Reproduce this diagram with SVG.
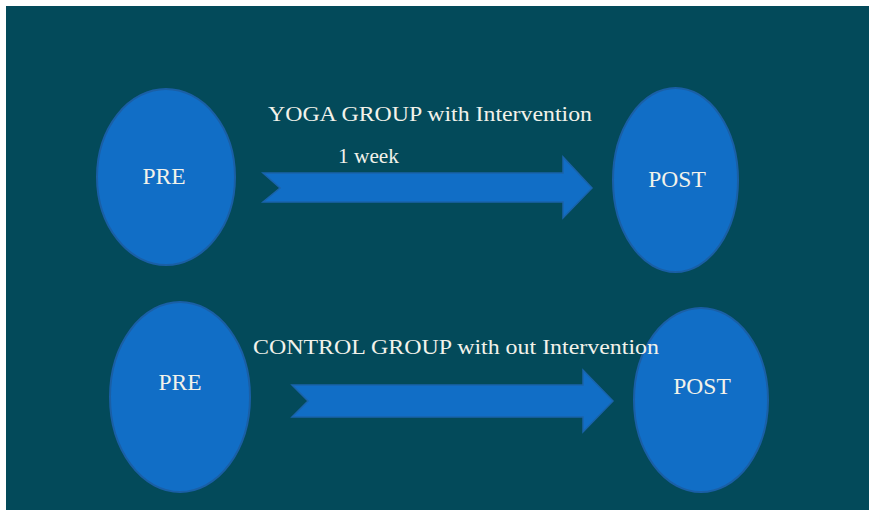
<svg xmlns="http://www.w3.org/2000/svg" width="869" height="512" viewBox="0 0 869 512">
<style>
.node ellipse{fill:#116ec6;stroke:#1a5fa6;stroke-width:2}
.node text{font-size:23.5px}
.conn polygon{fill:#116ec6;stroke:#1a63ab;stroke-width:1.5}
text{font-family:"Liberation Serif",serif;fill:#f2f2ea;font-size:22px}
</style>
<rect x="0" y="0" width="869" height="512" fill="#ffffff"/>
<rect x="6" y="6" width="863" height="504" fill="#034a5a"/>
<g class="conn" id="connectors">
<polygon points="263,173 563,173 563,157 592,188 563,218 563,202 263,202 280,188"/>
<polygon points="292,385 583,385 583,370 613,401 583,432 583,417 292,417 308,401"/>
</g>
<g class="node" id="pre1"><ellipse cx="166" cy="177" rx="69" ry="88"/><text x="164" y="184" text-anchor="middle">PRE</text></g>
<g class="node" id="post1"><ellipse cx="675.5" cy="180" rx="62.5" ry="92"/><text x="677" y="187" text-anchor="middle">POST</text></g>
<g class="node" id="pre2"><ellipse cx="180" cy="397" rx="70" ry="95"/><text x="180" y="390" text-anchor="middle">PRE</text></g>
<g class="node" id="post2"><ellipse cx="701" cy="400" rx="67" ry="92"/><text x="702" y="394" text-anchor="middle">POST</text></g>
<g id="labels">
<text x="268" y="121" textLength="324" lengthAdjust="spacingAndGlyphs">YOGA GROUP with Intervention</text>
<text x="338" y="163" textLength="61" lengthAdjust="spacingAndGlyphs">1 week</text>
<text x="253" y="354" textLength="406" lengthAdjust="spacingAndGlyphs">CONTROL GROUP with out Intervention</text>
</g>
</svg>
